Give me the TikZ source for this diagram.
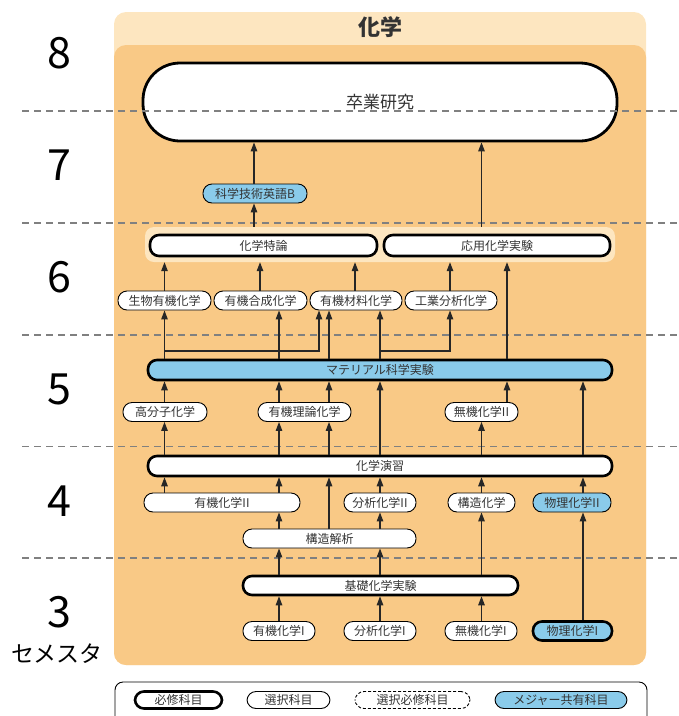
\documentclass[tikz,border=0pt]{standalone}
\usepackage{fontspec}
\setmainfont{Noto Sans CJK JP}
\usetikzlibrary{arrows.meta}
\definecolor{panelLight}{HTML}{FDE6C0}
\definecolor{panelOrange}{HTML}{F9C986}
\definecolor{shareBlue}{HTML}{8ACBEA}
\definecolor{dashGray}{HTML}{808080}
\definecolor{txt}{HTML}{333333}
\begin{document}
\begin{tikzpicture}[x=1pt,y=-1pt,
  course/.style={draw=black, fill=white, rectangle, rounded corners=9pt,
    minimum height=19pt, inner sep=0pt, text=txt,
    font=\fontsize{12}{12}\selectfont, line width=0.9pt},
  req/.style={course, line width=2.6pt},
  share/.style={course, fill=shareBlue},
  arr/.style={-{Triangle[length=9pt,width=6.5pt]}, line width=1.2pt, draw=black!85},
  semnum/.style={text=black, font=\fontsize{43}{43}\selectfont},
  sepline/.style={draw=dashGray, line width=1.8pt, dash pattern=on 7pt off 5pt}]
\useasboundingbox (0,0) rectangle (679,716);
\clip (0,0) rectangle (679,716);

% panels
\fill[panelLight, rounded corners=12pt] (114,12) rectangle (646,665);
\fill[panelOrange, rounded corners=12pt] (114,45) rectangle (646,665);
\node[font=\bfseries\fontsize{22}{22}\selectfont, text=txt] (title) at (380,27) {化学};

% semester numbers
\node[semnum] (s8) at (59,53) {8};
\node[semnum] (s7) at (59,165) {7};
\node[semnum] (s6) at (59,277) {6};
\node[semnum] (s5) at (59,389) {5};
\node[semnum] (s4) at (59,501) {4};
\node[semnum] (s3) at (59,612) {3};
\node[text=black, font=\fontsize{23}{23}\selectfont] (sem) at (57,654) {セメスタ};

% column coordinates
\coordinate (x164) at (164.5,0);
\coordinate (x254) at (254,0);
\coordinate (x260) at (260,0);
\coordinate (x279) at (279,0);
\coordinate (x319) at (319,0);
\coordinate (x329) at (329,0);
\coordinate (x355) at (355,0);
\coordinate (x380) at (380,0);
\coordinate (x450) at (450,0);
\coordinate (x481) at (481.5,0);
\coordinate (x507) at (507,0);
\coordinate (x583) at (583,0);

% nodes
\node[req, line width=2.8pt, rounded corners=37pt, minimum width=474pt,
  minimum height=78pt, font=\fontsize{17}{17}\selectfont] (sotsu) at (380,102) {卒業研究};
\node[share, minimum width=104pt] (eigo) at (255,193.5) {科学技術英語B};

\node[fill=panelLight, rounded corners=9pt, minimum width=470pt, minimum height=35pt, inner sep=0pt] (band) at (380,244.5) {};
\node[req, minimum width=227pt, minimum height=21pt] (tokuron) at (263.5,245.5) {化学特論};
\node[req, minimum width=226pt, minimum height=21pt] (ouyou) at (497,245.5) {応用化学実験};

\node[course, minimum width=93pt] (seibutsu) at (164.5,300.5) {生物有機化学};
\node[course, minimum width=93pt] (gousei) at (260.5,300.5) {有機合成化学};
\node[course, minimum width=92pt] (zairyo) at (356,300.5) {有機材料化学};
\node[course, minimum width=92pt] (kougyou) at (451,300.5) {工業分析化学};

\node[req, fill=shareBlue, minimum width=464pt, minimum height=20pt] (mat) at (380,370) {マテリアル科学実験};

\node[course, minimum width=84pt] (koubunshi) at (165,412) {高分子化学};
\node[course, minimum width=93pt] (riron) at (304.5,412) {有機理論化学};
\node[course, minimum width=73pt] (muki2) at (481.5,412) {無機化学II};

\node[req, minimum width=464pt, minimum height=20pt] (enshu) at (380,466) {化学演習};

\node[course, minimum width=156pt] (yuki2) at (222,502.5) {有機化学II};
\node[course, minimum width=72pt] (bunseki2) at (380,502.5) {分析化学II};
\node[course, minimum width=67pt] (kouzou) at (481.5,502.5) {構造化学};
\node[share, minimum width=78pt] (butsuri2) at (572,502.5) {物理化学II};

\node[course, minimum width=173pt] (kaiseki) at (329.5,538.5) {構造解析};

\node[req, minimum width=275pt] (kiso) at (380.5,585.5) {基礎化学実験};

\node[course, minimum width=72pt] (yuki1) at (279,631) {有機化学I};
\node[course, minimum width=72pt] (bunseki1) at (380,631) {分析化学I};
\node[course, minimum width=72pt] (muki1) at (481,631) {無機化学I};
\node[req, fill=shareBlue, minimum width=79pt] (butsuri1) at (572.5,631) {物理化学I};

% separators
\draw[sepline] (22,111) -- (679,111);
\draw[sepline] (22,223) -- (679,223);
\draw[sepline] (22,335) -- (679,335);
\draw[sepline] (22,446.5) -- (679,446.5);
\draw[sepline] (22,558) -- (679,558);

% arrows: top
\draw[arr] (eigo.north -| x254) -- (sotsu.south -| x254);
\draw[arr] (band.north -| x254) -- (eigo.south -| x254);
\draw[arr] (band.north -| x481) -- (sotsu.south -| x481);

% row 6 -> band
\draw[arr] (seibutsu.north -| x164) -- (band.south -| x164);
\draw[arr] (gousei.north -| x260) -- (band.south -| x260);
\draw[arr] (zairyo.north -| x355) -- (band.south -| x355);
\draw[arr] (kougyou.north -| x450) -- (band.south -| x450);
\draw[arr] (mat.north -| x507) -- (band.south -| x507);

% materials -> row 6
\coordinate (j1) at (164.5,351);
\coordinate (j2) at (380,351);
\draw[arr] (mat.north -| x164) -- (seibutsu.south -| x164);
\draw[arr] (j1) -| (zairyo.south -| x319);
\draw[arr] (mat.north -| x279) -- (gousei.south -| x279);
\draw[arr] (mat.north -| x329) -- (zairyo.south -| x329);
\draw[arr] (mat.north -| x380) -- (zairyo.south -| x380);
\draw[arr] (j2) -| (kougyou.south -| x450);

% row 5 -> materials
\draw[arr] (koubunshi.north -| x164) -- (mat.south -| x164);
\draw[arr] (riron.north -| x279) -- (mat.south -| x279);
\draw[arr] (riron.north -| x329) -- (mat.south -| x329);
\draw[arr] (enshu.north -| x380) -- (mat.south -| x380);
\draw[arr] (muki2.north -| x507) -- (mat.south -| x507);
\draw[arr] (enshu.north -| x583) -- (mat.south -| x583);

% enshu -> row 5
\draw[arr] (enshu.north -| x164) -- (koubunshi.south -| x164);
\draw[arr] (enshu.north -| x279) -- (riron.south -| x279);
\draw[arr] (enshu.north -| x329) -- (riron.south -| x329);
\draw[arr] (enshu.north -| x481) -- (muki2.south -| x481);

% row 4 -> enshu
\draw[arr] (yuki2.north -| x164) -- (enshu.south -| x164);
\draw[arr] (yuki2.north -| x279) -- (enshu.south -| x279);
\draw[arr] (kaiseki.north -| x329) -- (enshu.south -| x329);
\draw[arr] (bunseki2.north -| x380) -- (enshu.south -| x380);
\draw[arr] (kouzou.north -| x481) -- (enshu.south -| x481);
\draw[arr] (butsuri2.north -| x583) -- (enshu.south -| x583);

% kaiseki -> row 4
\draw[arr] (kaiseki.north -| x279) -- (yuki2.south -| x279);
\draw[arr] (kaiseki.north -| x380) -- (bunseki2.south -| x380);

% kiso -> ...
\draw[arr] (kiso.north -| x279) -- (kaiseki.south -| x279);
\draw[arr] (kiso.north -| x380) -- (kaiseki.south -| x380);
\draw[arr] (kiso.north -| x481) -- (kouzou.south -| x481);
\draw[arr] (butsuri1.north -| x583) -- (butsuri2.south -| x583);

% row 3 -> kiso
\draw[arr] (yuki1.north -| x279) -- (kiso.south -| x279);
\draw[arr] (bunseki1.north -| x380) -- (kiso.south -| x380);
\draw[arr] (muki1.north -| x481) -- (kiso.south -| x481);

% legend
\draw[line width=0.9pt, rounded corners=8pt, fill=white] (115,682) rectangle (647,745);
\node[req, minimum width=87pt, minimum height=17pt] (lg1) at (178.5,700) {必修科目};
\node[course, minimum width=83pt, minimum height=17pt] (lg2) at (288.5,700) {選択科目};
\node[course, dash pattern=on 3pt off 2pt, minimum width=115pt, minimum height=17pt] (lg3) at (412.5,700) {選択必修科目};
\node[share, minimum width=132pt, minimum height=17pt] (lg4) at (561,700) {メジャー共有科目};
\end{tikzpicture}
\end{document}
